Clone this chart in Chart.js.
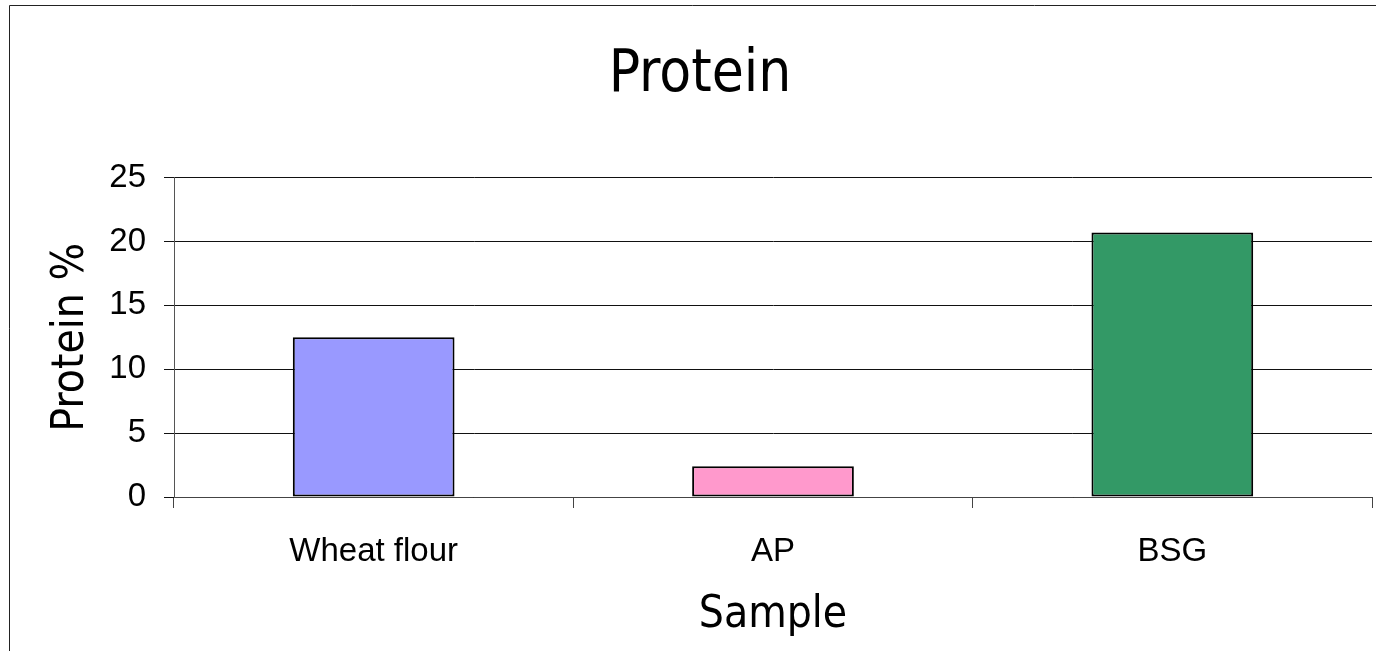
<!DOCTYPE html>
<html lang="en">

<head>
    <meta charset="UTF-8">
    <title>Protein</title>
    <script src="https://cdn.jsdelivr.net/npm/chart.js"></script>
    <style>
        html, body { margin: 0; padding: 0; background: #fff; }
        #wrap { width: 1376px; height: 651px; }
    </style>
</head>

<body>
    <div id="wrap"><canvas id="chart" width="1376" height="651"></canvas></div>

    <script>
        // chart data
        const samples = ['Wheat flour', 'AP', 'BSG'];
        const proteinPct = [12.5, 2.4, 20.7];
        const barColors = ['#9999FF', '#FF99CC', '#339966'];
        const yTicks = [0, 5, 10, 15, 20, 25];

        const titleFont = "'DejaVu Sans Condensed', 'DejaVu Sans', sans-serif";
        const tickFont = "'Liberation Sans', Arial, sans-serif";

        // thin frame round the chart (top and left edge only, like the source)
        const framePlugin = {
            id: 'frame',
            afterLayout(chart) {
                // the source centres its title a bit right of the canvas middle
                if (chart.titleBlock) chart.titleBlock.left = 28;
            },
            beforeDraw(chart) {
                const ctx = chart.ctx;
                ctx.save();
                ctx.strokeStyle = '#222';
                ctx.lineWidth = 1;
                ctx.beginPath();
                ctx.moveTo(9.5, 651);
                ctx.lineTo(9.5, 5.5);
                ctx.lineTo(1376, 5.5);
                ctx.stroke();
                ctx.restore();
            }
        };

        new Chart(document.getElementById('chart'), {
            type: 'bar',
            data: {
                labels: samples,
                datasets: [{
                    label: 'Protein %',
                    data: proteinPct,
                    backgroundColor: barColors,
                    borderColor: '#000',
                    borderWidth: 2,
                    borderSkipped: false,
                    barPercentage: 0.405,
                    categoryPercentage: 1
                }]
            },
            options: {
                responsive: false,
                animation: false,
                layout: { padding: { top: 0, left: 0, right: 4, bottom: 0 } },
                plugins: {
                    legend: { display: false },
                    tooltip: { enabled: false },
                    title: {
                        display: true,
                        text: 'Protein',
                        color: '#000',
                        font: { family: titleFont, size: 58, weight: 'normal' },
                        padding: { top: 41, bottom: 67 }
                    }
                },
                scales: {
                    x: {
                        grid: {
                            offset: true,
                            drawOnChartArea: false,
                            drawTicks: true,
                            tickLength: 11,
                            color: '#444'
                        },
                        border: { display: true, color: '#444', width: 1 },
                        ticks: {
                            color: '#000',
                            padding: 24,
                            maxRotation: 0,
                            font: { family: tickFont, size: 33 }
                        },
                        title: {
                            display: true,
                            text: 'Sample',
                            color: '#000',
                            font: { family: titleFont, size: 44, weight: 'normal' },
                            padding: { top: 0, bottom: 9 }
                        },
                        afterFit(scale) { scale.height = 154; }
                    },
                    y: {
                        min: 0,
                        max: 25,
                        afterBuildTicks(scale) {
                            scale.ticks = yTicks.map(v => ({ value: v }));
                        },
                        grid: {
                            color: '#111',
                            lineWidth: 1,
                            tickLength: 10
                        },
                        border: { display: true, color: '#555', width: 1 },
                        ticks: {
                            color: '#000',
                            padding: 18,
                            font: { family: tickFont, size: 33 }
                        },
                        title: {
                            display: true,
                            text: 'Protein %',
                            color: '#000',
                            font: { family: titleFont, size: 44, weight: 'normal' },
                            padding: { top: 45, bottom: 0 }
                        },
                        afterFit(scale) { scale.width = 174; }
                    }
                }
            },
            plugins: [framePlugin]
        });
    </script>
</body>

</html>
